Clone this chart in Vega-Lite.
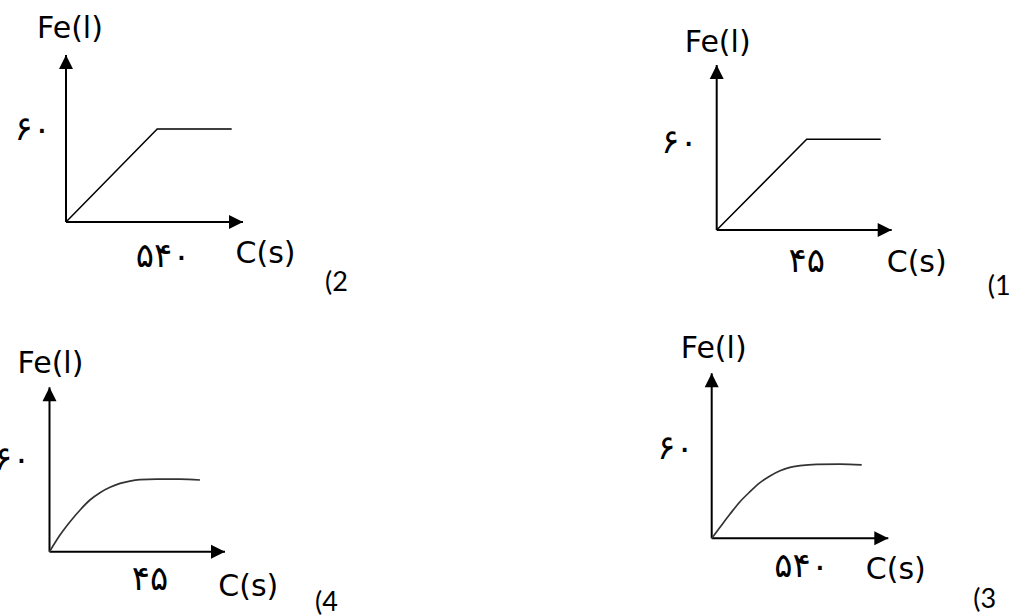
{
  "$schema": "https://vega.github.io/schema/vega-lite/v6.json",
  "width": 1019,
  "height": 615,
  "autosize": {"type": "none"},
  "padding": 0,
  "background": "white",
  "config": {"view": {"stroke": null}},
  "resolve": {"scale": {"x": "independent", "y": "independent"}},
  "layer": [
    {
      "encoding": {
        "x": {"field": "t", "type": "quantitative", "axis": null, "scale": {"domain": [0, 1048], "range": [66, 243], "nice": false, "zero": false}},
        "y": {"field": "fe", "type": "quantitative", "axis": null, "scale": {"domain": [0, 107.7], "range": [222, 55], "nice": false, "zero": false}}
      },
      "layer": [
        {"data": {"values": [{"t": 0, "fe": 0, "t2": 0, "fe2": 107.7}, {"t": 0, "fe": 0, "t2": 1048, "fe2": 0}]}, "mark": {"type": "rule", "color": "black", "strokeWidth": 2}, "encoding": {"x2": {"field": "t2"}, "y2": {"field": "fe2"}}},
        {"data": {"values": [{"t": 0, "fe": 107.7}]}, "mark": {"type": "point", "shape": "M0,-1L-1,1L1,1Z", "size": 196, "filled": true, "color": "black", "opacity": 1, "yOffset": 7}},
        {"data": {"values": [{"t": 1048, "fe": 0}]}, "mark": {"type": "point", "shape": "M1,0L-1,-1L-1,1Z", "size": 196, "filled": true, "color": "black", "opacity": 1, "xOffset": -7}},
        {"data": {"values": [{"t": 0, "fe": 0}, {"t": 540, "fe": 60}, {"t": 981, "fe": 60}]}, "mark": {"type": "line", "color": "black", "strokeWidth": 1.5}},
        {"data": {"values": [{"t": 0, "fe": 107.7, "label": "Fe(l)"}]}, "mark": {"type": "text", "font": "DejaVu Sans", "fontSize": 30, "align": "center", "baseline": "alphabetic", "dx": 4, "dy": -17, "color": "black"}, "encoding": {"text": {"field": "label"}}},
        {"data": {"values": [{"t": 1048, "fe": 0, "label": "C(s)"}]}, "mark": {"type": "text", "font": "DejaVu Sans", "fontSize": 30, "align": "center", "baseline": "alphabetic", "dx": 22.5, "dy": 41.3, "color": "black"}, "encoding": {"text": {"field": "label"}}},
        {"data": {"values": [{"t": 0, "fe": 60, "label": "۶۰"}]}, "mark": {"type": "text", "font": "DejaVu Sans", "fontSize": 34, "align": "right", "baseline": "middle", "dx": -15, "dy": 1, "color": "black"}, "encoding": {"text": {"field": "label"}}},
        {"data": {"values": [{"t": 540, "fe": 0, "label": "۵۴۰"}]}, "mark": {"type": "text", "font": "DejaVu Sans", "fontSize": 34, "align": "center", "baseline": "middle", "dx": 6, "dy": 34.7, "color": "black"}, "encoding": {"text": {"field": "label"}}},
        {"data": {"values": [{"t": 1048, "fe": 0, "label": "(2"}]}, "mark": {"type": "text", "font": "Lato", "fontSize": 27, "align": "left", "baseline": "middle", "dx": 82, "dy": 61, "color": "black"}, "encoding": {"text": {"field": "label"}}}
      ]
    },
    {
      "encoding": {
        "x": {"field": "t", "type": "quantitative", "axis": null, "scale": {"domain": [0, 87.5], "range": [716.7, 891.7], "nice": false, "zero": false}},
        "y": {"field": "fe", "type": "quantitative", "axis": null, "scale": {"domain": [0, 109.1], "range": [230, 65], "nice": false, "zero": false}}
      },
      "layer": [
        {"data": {"values": [{"t": 0, "fe": 0, "t2": 0, "fe2": 109.1}, {"t": 0, "fe": 0, "t2": 87.5, "fe2": 0}]}, "mark": {"type": "rule", "color": "black", "strokeWidth": 2}, "encoding": {"x2": {"field": "t2"}, "y2": {"field": "fe2"}}},
        {"data": {"values": [{"t": 0, "fe": 109.1}]}, "mark": {"type": "point", "shape": "M0,-1L-1,1L1,1Z", "size": 196, "filled": true, "color": "black", "opacity": 1, "yOffset": 7}},
        {"data": {"values": [{"t": 87.5, "fe": 0}]}, "mark": {"type": "point", "shape": "M1,0L-1,-1L-1,1Z", "size": 196, "filled": true, "color": "black", "opacity": 1, "xOffset": -7}},
        {"data": {"values": [{"t": 0, "fe": 0}, {"t": 45, "fe": 60}, {"t": 82, "fe": 60}]}, "mark": {"type": "line", "color": "black", "strokeWidth": 1.5}},
        {"data": {"values": [{"t": 0, "fe": 109.1, "label": "Fe(l)"}]}, "mark": {"type": "text", "font": "DejaVu Sans", "fontSize": 30, "align": "center", "baseline": "alphabetic", "dx": 1, "dy": -13.3, "color": "black"}, "encoding": {"text": {"field": "label"}}},
        {"data": {"values": [{"t": 87.5, "fe": 0, "label": "C(s)"}]}, "mark": {"type": "text", "font": "DejaVu Sans", "fontSize": 30, "align": "center", "baseline": "alphabetic", "dx": 25, "dy": 42, "color": "black"}, "encoding": {"text": {"field": "label"}}},
        {"data": {"values": [{"t": 0, "fe": 60, "label": "۶۰"}]}, "mark": {"type": "text", "font": "DejaVu Sans", "fontSize": 34, "align": "right", "baseline": "middle", "dx": -19, "dy": 4, "color": "black"}, "encoding": {"text": {"field": "label"}}},
        {"data": {"values": [{"t": 45, "fe": 0, "label": "۴۵"}]}, "mark": {"type": "text", "font": "DejaVu Sans", "fontSize": 34, "align": "center", "baseline": "middle", "dx": 0, "dy": 31.7, "color": "black"}, "encoding": {"text": {"field": "label"}}},
        {"data": {"values": [{"t": 87.5, "fe": 0, "label": "(1"}]}, "mark": {"type": "text", "font": "Lato", "fontSize": 27, "align": "left", "baseline": "middle", "dx": 96, "dy": 56.5, "color": "black"}, "encoding": {"text": {"field": "label"}}}
      ]
    },
    {
      "encoding": {
        "x": {"field": "t", "type": "quantitative", "axis": null, "scale": {"domain": [0, 78.6], "range": [49.5, 225], "nice": false, "zero": false}},
        "y": {"field": "fe", "type": "quantitative", "axis": null, "scale": {"domain": [0, 107.5], "range": [551.7, 387.3], "nice": false, "zero": false}}
      },
      "layer": [
        {"data": {"values": [{"t": 0, "fe": 0, "t2": 0, "fe2": 107.5}, {"t": 0, "fe": 0, "t2": 78.6, "fe2": 0}]}, "mark": {"type": "rule", "color": "black", "strokeWidth": 2}, "encoding": {"x2": {"field": "t2"}, "y2": {"field": "fe2"}}},
        {"data": {"values": [{"t": 0, "fe": 107.5}]}, "mark": {"type": "point", "shape": "M0,-1L-1,1L1,1Z", "size": 196, "filled": true, "color": "black", "opacity": 1, "yOffset": 7}},
        {"data": {"values": [{"t": 78.6, "fe": 0}]}, "mark": {"type": "point", "shape": "M1,0L-1,-1L-1,1Z", "size": 196, "filled": true, "color": "black", "opacity": 1, "xOffset": -7}},
        {"data": {"values": [{"t": 0, "fe": 0}, {"t": 4.7, "fe": 10.9}, {"t": 9.2, "fe": 19.6}, {"t": 13.7, "fe": 27.3}, {"t": 18.1, "fe": 33.8}, {"t": 22.6, "fe": 38.6}, {"t": 27.1, "fe": 42.1}, {"t": 31.6, "fe": 44.7}, {"t": 36.0, "fe": 46.2}, {"t": 40.5, "fe": 47.1}, {"t": 48, "fe": 47.5}, {"t": 58.4, "fe": 47.5}, {"t": 67.4, "fe": 46.9}]}, "mark": {"type": "line", "color": "#333333", "strokeWidth": 1.7, "interpolate": "monotone"}},
        {"data": {"values": [{"t": 0, "fe": 107.5, "label": "Fe(l)"}]}, "mark": {"type": "text", "font": "DejaVu Sans", "fontSize": 30, "align": "center", "baseline": "alphabetic", "dx": 1, "dy": -14, "color": "black"}, "encoding": {"text": {"field": "label"}}},
        {"data": {"values": [{"t": 78.6, "fe": 0, "label": "C(s)"}]}, "mark": {"type": "text", "font": "DejaVu Sans", "fontSize": 30, "align": "center", "baseline": "alphabetic", "dx": 23.3, "dy": 44, "color": "black"}, "encoding": {"text": {"field": "label"}}},
        {"data": {"values": [{"t": 0, "fe": 60, "label": "۶۰"}]}, "mark": {"type": "text", "font": "DejaVu Sans", "fontSize": 34, "align": "right", "baseline": "middle", "dx": -19, "dy": 0, "color": "black"}, "encoding": {"text": {"field": "label"}}},
        {"data": {"values": [{"t": 45, "fe": 0, "label": "۴۵"}]}, "mark": {"type": "text", "font": "DejaVu Sans", "fontSize": 34, "align": "center", "baseline": "middle", "dx": 0, "dy": 28.3, "color": "black"}, "encoding": {"text": {"field": "label"}}},
        {"data": {"values": [{"t": 78.6, "fe": 0, "label": "(4"}]}, "mark": {"type": "text", "font": "Lato", "fontSize": 27, "align": "left", "baseline": "middle", "dx": 90, "dy": 51, "color": "black"}, "encoding": {"text": {"field": "label"}}}
      ]
    },
    {
      "encoding": {
        "x": {"field": "t", "type": "quantitative", "axis": null, "scale": {"domain": [0, 1059.6], "range": [711.7, 888.3], "nice": false, "zero": false}},
        "y": {"field": "fe", "type": "quantitative", "axis": null, "scale": {"domain": [0, 110.9], "range": [538.3, 373.3], "nice": false, "zero": false}}
      },
      "layer": [
        {"data": {"values": [{"t": 0, "fe": 0, "t2": 0, "fe2": 110.9}, {"t": 0, "fe": 0, "t2": 1059.6, "fe2": 0}]}, "mark": {"type": "rule", "color": "black", "strokeWidth": 2}, "encoding": {"x2": {"field": "t2"}, "y2": {"field": "fe2"}}},
        {"data": {"values": [{"t": 0, "fe": 110.9}]}, "mark": {"type": "point", "shape": "M0,-1L-1,1L1,1Z", "size": 196, "filled": true, "color": "black", "opacity": 1, "yOffset": 7}},
        {"data": {"values": [{"t": 1059.6, "fe": 0}]}, "mark": {"type": "point", "shape": "M1,0L-1,-1L-1,1Z", "size": 196, "filled": true, "color": "black", "opacity": 1, "xOffset": -7}},
        {"data": {"values": [{"t": 0, "fe": 0}, {"t": 49.8, "fe": 7.4}, {"t": 109.8, "fe": 16.3}, {"t": 169.8, "fe": 24.6}, {"t": 229.8, "fe": 31.3}, {"t": 289.8, "fe": 37.4}, {"t": 349.8, "fe": 41.9}, {"t": 409.8, "fe": 45.4}, {"t": 469.8, "fe": 47.7}, {"t": 529.8, "fe": 48.8}, {"t": 630, "fe": 49.7}, {"t": 769.8, "fe": 49.9}, {"t": 900, "fe": 49.3}]}, "mark": {"type": "line", "color": "#333333", "strokeWidth": 1.7, "interpolate": "monotone"}},
        {"data": {"values": [{"t": 0, "fe": 110.9, "label": "Fe(l)"}]}, "mark": {"type": "text", "font": "DejaVu Sans", "fontSize": 30, "align": "center", "baseline": "alphabetic", "dx": 2, "dy": -15, "color": "black"}, "encoding": {"text": {"field": "label"}}},
        {"data": {"values": [{"t": 1059.6, "fe": 0, "label": "C(s)"}]}, "mark": {"type": "text", "font": "DejaVu Sans", "fontSize": 30, "align": "center", "baseline": "alphabetic", "dx": 7.5, "dy": 40.7, "color": "black"}, "encoding": {"text": {"field": "label"}}},
        {"data": {"values": [{"t": 0, "fe": 60, "label": "۶۰"}]}, "mark": {"type": "text", "font": "DejaVu Sans", "fontSize": 34, "align": "right", "baseline": "middle", "dx": -18, "dy": 0, "color": "black"}, "encoding": {"text": {"field": "label"}}},
        {"data": {"values": [{"t": 540, "fe": 0, "label": "۵۴۰"}]}, "mark": {"type": "text", "font": "DejaVu Sans", "fontSize": 34, "align": "center", "baseline": "middle", "dx": 0, "dy": 28.4, "color": "black"}, "encoding": {"text": {"field": "label"}}},
        {"data": {"values": [{"t": 1059.6, "fe": 0, "label": "(3"}]}, "mark": {"type": "text", "font": "Lato", "fontSize": 27, "align": "left", "baseline": "middle", "dx": 85, "dy": 62, "color": "black"}, "encoding": {"text": {"field": "label"}}}
      ]
    }
  ]
}
